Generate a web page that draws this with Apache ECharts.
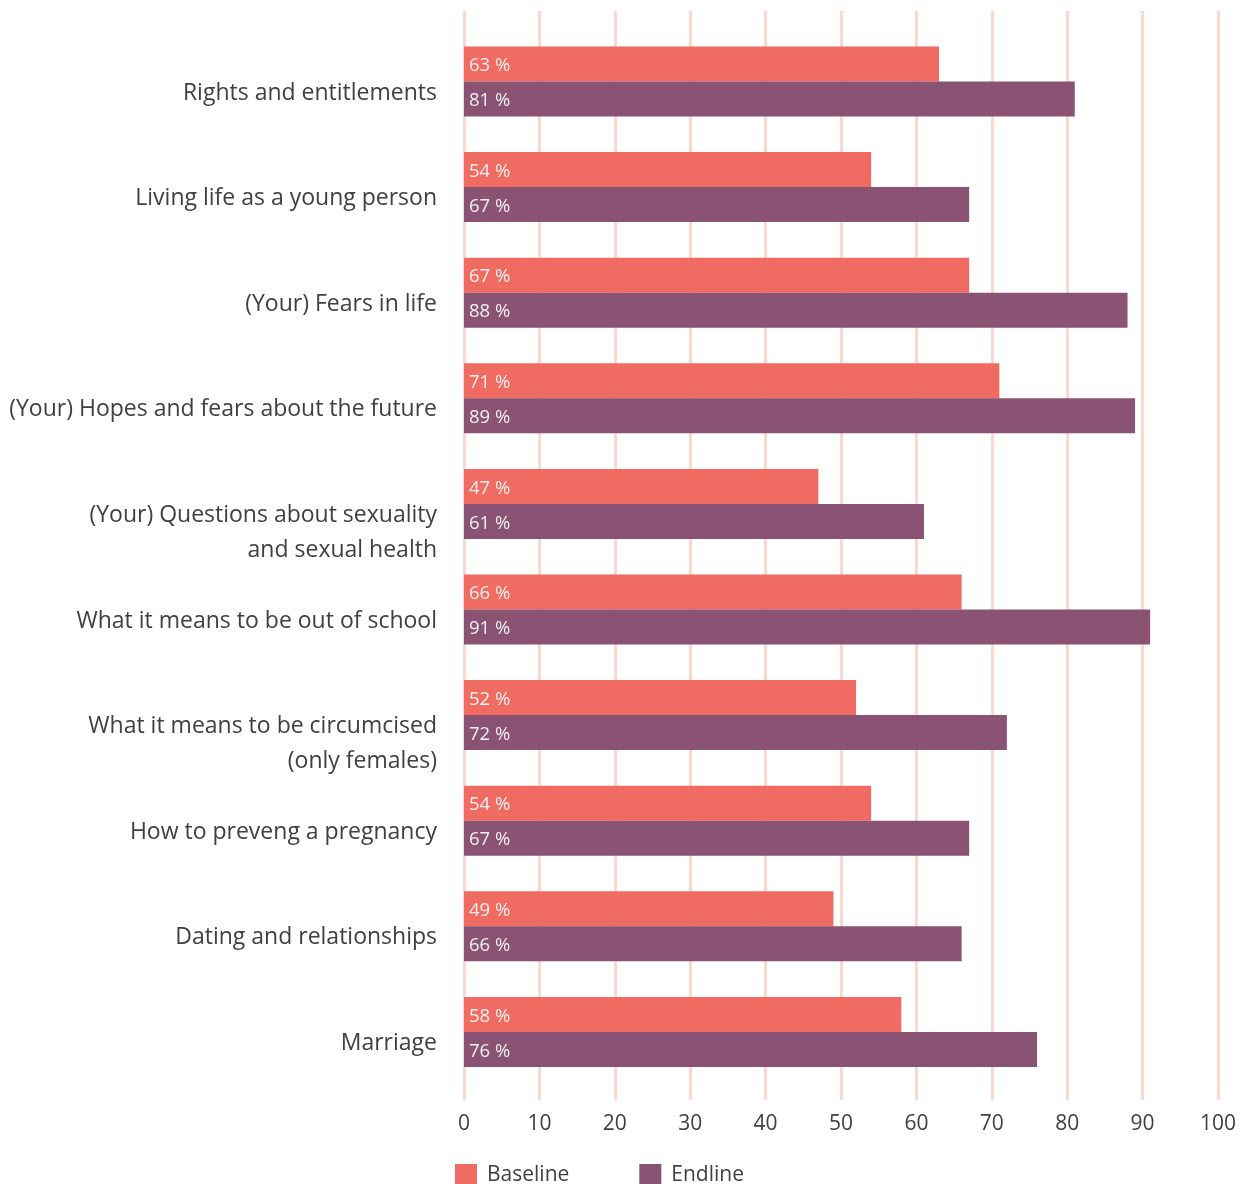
<!DOCTYPE html>
<html><head><meta charset="utf-8">
<script src="https://cdn.jsdelivr.net/npm/echarts@6/dist/echarts.min.js"></script>
<style>html,body{margin:0;padding:0;background:#fff}#c{width:1254px;height:1184px}</style>
</head><body><div id="c"></div>
<script>
const categories = [
  "Rights and entitlements",
  "Living life as a young person",
  "(Your) Fears in life",
  "(Your) Hopes and fears about the future",
  "(Your) Questions about sexuality\nand sexual health",
  "What it means to be out of school",
  "What it means to be circumcised\n(only females)",
  "How to preveng a pregnancy",
  "Dating and relationships",
  "Marriage"
];
const baseline = [63, 54, 67, 71, 47, 66, 52, 54, 49, 58];
const endline  = [81, 67, 88, 89, 61, 91, 72, 67, 66, 76];
const xTicks = [0, 100, 10];

const FONT = '"Open Sans", sans-serif';
const TXT = '#404040';
const chart = echarts.init(document.getElementById('c'));
const barTop = 28.7, barH = 1056;
chart.setOption({
  animation: false,
  textStyle: { fontFamily: FONT },
  grid: [
    { left: 464, right: 36, top: 11, height: 1089 },
    { left: 464, right: 36, top: barTop, height: barH },
    { left: 464, right: 36, top: barTop - 6, height: barH }
  ],
  xAxis: [
    { gridIndex: 0, type: 'value', min: xTicks[0], max: xTicks[1], interval: xTicks[2],
      axisLine: { show: false }, axisTick: { show: false },
      splitLine: { lineStyle: { color: '#fcd8cf', width: 3 } },
      axisLabel: { color: TXT, fontSize: 21, margin: 14, fontFamily: FONT } },
    { gridIndex: 1, type: 'value', min: 0, max: 100, show: false },
    { gridIndex: 2, type: 'value', min: 0, max: 100, show: false }
  ],
  yAxis: [
    { gridIndex: 0, type: 'category', data: ['x'], show: false },
    { gridIndex: 1, type: 'category', data: categories, inverse: true, show: false },
    { gridIndex: 2, type: 'category', data: categories, inverse: true,
      axisLine: { show: false }, axisTick: { show: false }, splitLine: { show: false },
      axisLabel: { color: TXT, fontSize: 23, lineHeight: 35, margin: 27, verticalAlign: 'top', align: 'right', fontFamily: FONT } }
  ],
  legend: {
    left: 455, top: 1164, padding: 0, itemWidth: 22, itemHeight: 22, itemGap: 70, icon: 'rect',
    textStyle: { color: TXT, fontSize: 21, fontFamily: FONT, padding: [0, 0, 0, 5] },
    data: ['Baseline', 'Endline']
  },
  series: [
    { name: 'Baseline', type: 'bar', xAxisIndex: 1, yAxisIndex: 1, data: baseline,
      barWidth: 35, barGap: '0%', itemStyle: { color: '#f06b61' },
      label: { show: true, position: 'insideLeft', offset: [0, 2], formatter: '{c} %', color: 'rgba(255,255,255,0.9)', fontSize: 18.5, fontFamily: FONT } },
    { name: 'Endline', type: 'bar', xAxisIndex: 1, yAxisIndex: 1, data: endline,
      barWidth: 35, barGap: '0%', itemStyle: { color: '#8a5273' },
      label: { show: true, position: 'insideLeft', offset: [0, 2], formatter: '{c} %', color: 'rgba(255,255,255,0.9)', fontSize: 18.5, fontFamily: FONT } }
  ]
});
</script></body></html>
